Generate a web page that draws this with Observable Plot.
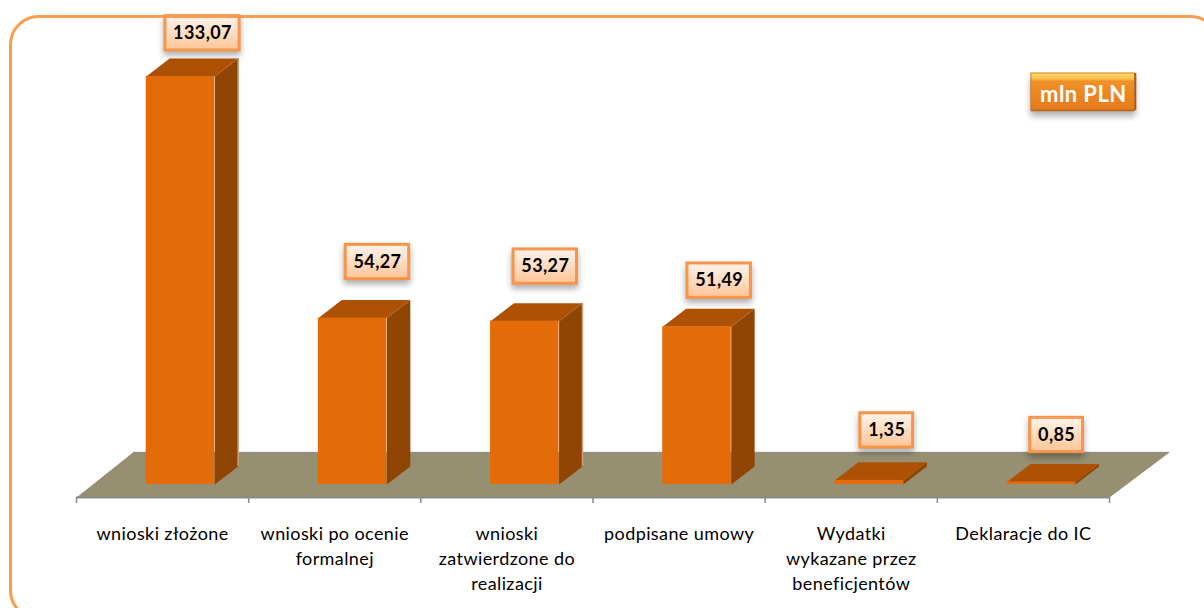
<!DOCTYPE html>
<html>
<head>
<meta charset="utf-8">
<script src="https://cdn.jsdelivr.net/npm/d3@7"></script>
<script src="https://cdn.jsdelivr.net/npm/@observablehq/plot@0.6"></script>
<style>
html,body{margin:0;padding:0;background:#fff;overflow:hidden}
svg{display:block}
svg g[aria-label="text"]{letter-spacing:.4px}
rect[aria-label="value box"]{filter:drop-shadow(0 4px 3px rgba(0,0,0,.32))}
rect[aria-label="unit badge"]{filter:drop-shadow(0 6px 3px rgba(0,0,0,.3))}
</style>
</head>
<body>
<div id="chart"></div>
<script>
const categories = ["wnioski złożone","wnioski po ocenie\nformalnej","wnioski\nzatwierdzone do\nrealizacji","podpisane umowy","Wydatki\nwykazane przez\nbeneficjentów","Deklaracje do IC"];
const values = [133.07,54.27,53.27,51.49,1.35,0.85];
const valueLabels = ["133,07","54,27","53,27","51,49","1,35","0,85"];
const unitLabel = "mln PLN";

// Layout of the pseudo-3D scene, in scale units (x: category slots, y: value units)
const barStart = 0.405, barEnd = 0.803, depthX = 0.136, depthY = 5.87;
const labelShift = [0.732,0.748,0.723,0.733,0.706,0.693];
const labelLift = [14.1,18.3,17.8,15,16.3,15.3];
const boxHeight = 11.2, topEdge = 153;
const floor = {front:-4.2, back:10.5, backLeft:0.33, backRight:6.35};
const tanEdged = [0,2];

const idx = d3.range(categories.length);
const poly = (id, pts) => pts.map(([x,y]) => ({id,x,y}));
const sides = idx.flatMap(i => poly(i,[[i+barEnd,0],[i+barEnd+depthX,depthY],[i+barEnd+depthX,values[i]+depthY],[i+barEnd,values[i]]]));
const tops = idx.flatMap(i => poly(i,[[i+barStart,values[i]],[i+barEnd,values[i]],[i+barEnd+depthX,values[i]+depthY],[i+barStart+depthX,values[i]+depthY]]));
const floorPoly = poly(0,[[0,floor.front],[6,floor.front],[floor.backRight,floor.back],[floor.backLeft,floor.back]]);
const boxW = i => (valueLabels[i].length*10.7+10)/172.2;
const boxes = idx.map(i => {
  const c = i+labelShift[i], m = values[i]+labelLift[i];
  return {i, x1:c-boxW(i)/2, x2:c+boxW(i)/2, y1:m-boxHeight/2, y2:Math.min(m+boxHeight/2,topEdge), cx:c, cy:m, label:valueLabels[i]};
});
const polyOpts = (fill) => ({x:"x",y:"y",z:"id",fill,stroke:"none"});

const plot = Plot.plot({
  width:1204, height:608,
  marginTop:0, marginRight:95, marginBottom:0, marginLeft:76,
  x:{type:"linear",domain:[0,6],axis:null},
  y:{type:"linear",domain:[-40.44,157.86],axis:null},
  style:{background:"#fff"},
  marks:[
    () => {
      const ns="http://www.w3.org/2000/svg";
      const defs=document.createElementNS(ns,"defs");
      defs.innerHTML=`<linearGradient id="boxGrad" x1="0" y1="0" x2="0" y2="1"><stop offset="0" stop-color="#fff4ec"/><stop offset="1" stop-color="#fdc596"/></linearGradient>
      <linearGradient id="badgeGrad" x1="0" y1="0" x2="0" y2="1"><stop offset="0" stop-color="#ffdc6a"/><stop offset=".16" stop-color="#fbc04c"/><stop offset=".22" stop-color="#f09028"/><stop offset="1" stop-color="#e67a1a"/></linearGradient>`;
      return defs;
    },
    Plot.line(floorPoly,{...polyOpts("#968f72")}),
    Plot.ruleY([floor.back],{x1:floor.backLeft,x2:floor.backRight,stroke:"#8a8a8a",strokeWidth:1}),
    Plot.ruleY([floor.front],{x1:0,x2:6,stroke:"#8a8a8a",strokeWidth:2}),
    Plot.ruleX(d3.range(0,7),{y1:floor.front,y2:floor.front-2,stroke:"#8a8a8a",strokeWidth:1.5}),
    Plot.line(sides,polyOpts("#914505")),
    Plot.ruleX(tanEdged,{x:i=>i+barEnd+depthX,y1:i=>depthY,y2:i=>values[i]+depthY,stroke:"#c9a27f",strokeWidth:1.5}),
    Plot.line(tops,polyOpts("#ad5205")),
    Plot.rectY(idx,{x1:i=>i+barStart,x2:i=>i+barEnd,y1:0,y2:i=>values[i],fill:"#e36c09"}),
    Plot.rect(boxes,{x1:"x1",x2:"x2",y1:"y1",y2:"y2",fill:"url(#boxGrad)",stroke:"#f9944a",strokeWidth:3,ariaLabel:()=>"value box"}),
    Plot.text(boxes,{x:"cx",y:"cy",text:"label",fill:"#000",fontSize:18,fontWeight:700,fontFamily:"Lato"}),
    Plot.text(idx,{x:i=>i+0.5,y:-12.2,text:i=>categories[i],lineAnchor:"top",lineHeight:1.39,fontSize:18,fontFamily:"Lato",fill:"#000",textAnchor:"middle"}),
    Plot.rect([0],{x1:5.546,x2:6.15,y1:122,y2:134.05,fill:"url(#badgeGrad)",stroke:"#d07a24",strokeWidth:1,ariaLabel:()=>"unit badge"}),
    Plot.ruleX([6.15],{y1:122,y2:134.05,stroke:"#a85c16",strokeWidth:2}),
    Plot.ruleY([122],{x1:5.546,x2:6.15,stroke:"#b8661a",strokeWidth:1.5}),
    Plot.text([unitLabel],{x:5.848,y:127,text:d=>d,fill:"#fff",fontSize:22,fontWeight:700,fontFamily:"Lato"}),
    Plot.frame({stroke:"#fb9c50",strokeWidth:3,rx:28,insetLeft:-66,insetTop:16,insetRight:-109,insetBottom:-10,fill:"none"})
  ]
});
document.getElementById("chart").append(plot);
</script>
</body>
</html>
